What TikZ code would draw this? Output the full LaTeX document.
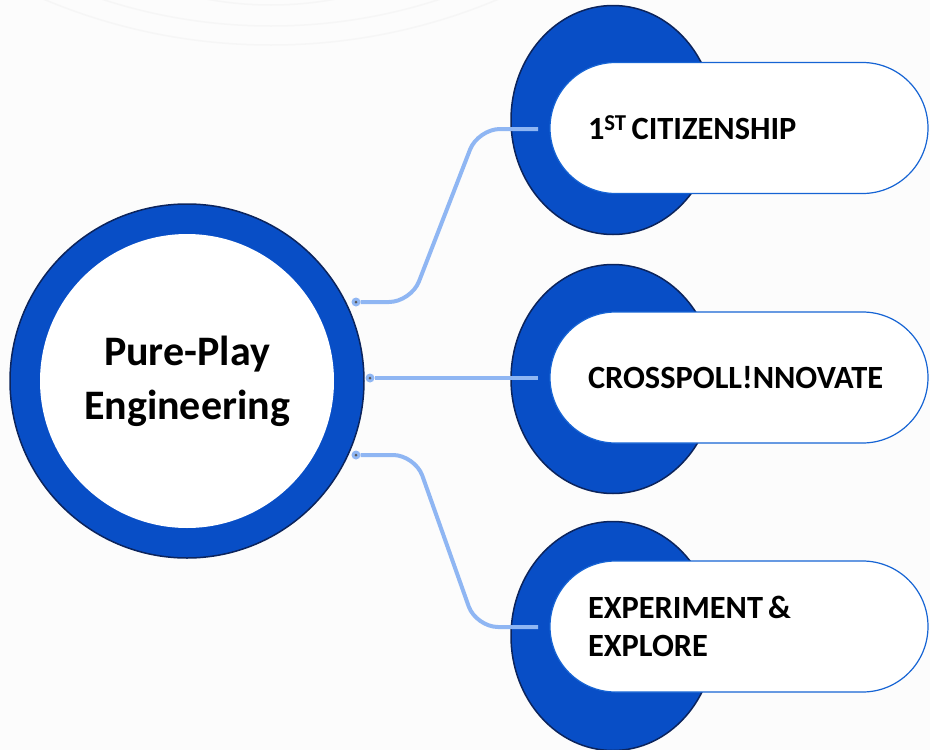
\documentclass[tikz,border=0pt]{standalone}
\usepackage{fontspec}
\setmainfont{Carlito}
\usetikzlibrary{shapes.geometric}
\definecolor{ringblue}{RGB}{8,78,198}
\definecolor{navyline}{RGB}{12,36,92}
\definecolor{pillblue}{RGB}{22,100,212}
\definecolor{linkblue}{RGB}{143,182,243}
\definecolor{pagegray}{RGB}{252,252,252}
\definecolor{faintgray}{RGB}{246,246,246}

\begin{document}
\begin{tikzpicture}[x=1pt,y=-1pt,
    hub/.style ={circle, draw=navyline, line width=1.5pt, fill=ringblue, minimum size=354pt, inner sep=0pt},
    core/.style ={circle, fill=white, minimum size=294pt, inner sep=0pt, align=center, font=\bfseries\fontsize{42}{54}\selectfont},
    ring/.style ={ellipse, draw=navyline, line width=1.5pt, fill=ringblue, minimum width=204pt, minimum height=229pt, inner sep=0pt},
    pill/.style ={rectangle, rounded corners=65.5pt, draw=pillblue, line width=1.2pt, fill=white, minimum width=378pt, minimum height=131pt, inner sep=0pt, text width=302pt, align=left, font=\bfseries\fontsize{32.4}{38}\selectfont, execute at begin node={\spaceskip 5pt\relax}},
    link/.style ={draw=linkblue, line width=4pt, rounded corners=22pt},
    dot/.style ={circle, fill=linkblue, minimum size=9pt, inner sep=0pt, path picture={\fill[black!65] (path picture bounding box.center) circle (1.5pt);}}]
   \fill[pagegray] (0,0) rectangle (930,750);
   \useasboundingbox (0,0) rectangle (930,750);
   \begin{scope}
     \clip (0,0) rectangle (930,750);
     \draw[faintgray, line width=1.5pt] (271,-345) circle (350);
     \draw[faintgray, line width=1.5pt] (271,-517) circle (543);
     \draw[faintgray, line width=1.5pt] (271,-540) circle (585);
   \end{scope}

   \node[hub] (hub) at (187,381) {};
   \node[core] (core) at (187,381) {Pure-Play\\Engineering};
   \node[ring] (R1) at (613,120) {};
   \node[ring] (R2) at (613,379) {};
   \node[ring] (R3) at (613,636) {};

   \node[dot] (D1) at (356,302) {};
   \node[dot] (D2) at (370,378) {};
   \node[dot] (D3) at (356,455) {};
   \coordinate (E1) at (538,129);
   \coordinate (E2) at (538,378);
   \coordinate (E3) at (538,627);

   \draw[link] (D1) -- (411,302) -- (478,129) -- (E1);
   \draw[link] (D2) -- (E2);
   \draw[link] (D3) -- (415,455) -- (476,627) -- (E3);

   \node[pill] (P1) at (739,128) {1\textsuperscript{ST} CITIZENSHIP};
   \node[pill] (P2) at (739,377.5) {CROSSPOLL!NNOVATE};
   \node[pill] (P3) at (739,626.5) {EXPERIMENT \&\\EXPLORE};
 \end{tikzpicture}
\end{document}
